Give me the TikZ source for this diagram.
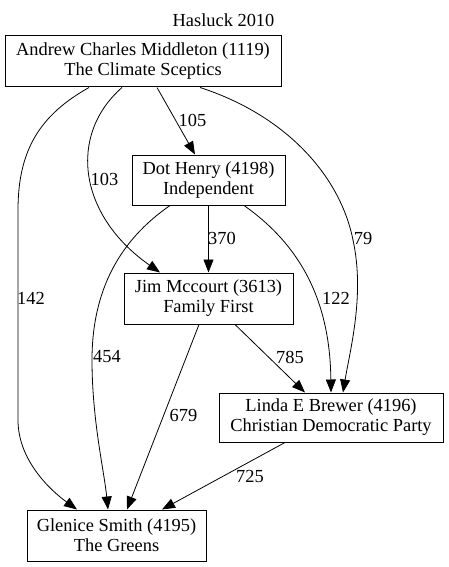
\documentclass[tikz,border=0pt]{standalone}
\usepackage{fontspec}
\setmainfont{Liberation Serif}
\usepackage{tikz}
\usetikzlibrary{arrows.meta, calc}

\tikzset{
  cand/.style={draw, line width=1pt, inner sep=0pt, align=center, font=\fontsize{18.4}{20}\selectfont},
  edge/.style={line width=0.8pt, -{Triangle[length=13pt, width=10pt]}},
  vote/.style={inner sep=0pt, font=\fontsize{18.4}{20}\selectfont}
}

\begin{document}
\begin{tikzpicture}[x=1pt, y=-1pt]
  \useasboundingbox (0,0) rectangle (448,567);

  % Title
  \node[vote] (title) at (223.5,20) {Hasluck 2010};

  % Candidates
  \node[cand, minimum width=276pt, minimum height=51pt] (A) at (143,61.5) {Andrew Charles Middleton (1119)\\The Climate Sceptics};
  \node[cand, minimum width=153pt, minimum height=50pt] (D) at (208.5,180) {Dot Henry (4198)\\Independent};
  \node[cand, minimum width=169pt, minimum height=51pt] (J) at (208.5,298.5) {Jim Mccourt (3613)\\Family First};
  \node[cand, minimum width=224pt, minimum height=49pt] (L) at (331,417.5) {Linda E Brewer (4196)\\Christian Democratic Party};
  \node[cand, minimum width=179pt, minimum height=51pt] (G) at (116.5,535.5) {Glenice Smith (4195)\\The Greens};

  % Preference flows
  \draw[edge] ($(A.south)+(14,0)$) -- ($(D.north)+(-13.5,0)$);
  \draw[edge] ($(A.south)+(-21,0)$) .. controls (68,135) and (78,215) .. ($(J.north)+(-48.5,0)$);
  \draw[edge] ($(A.south)+(57,0)$) .. controls (285,115) and (340,175) .. (353,240)
    .. controls (365,295) and (350,350) .. ($(L.north)+(12,0)$);
  \draw[edge] ($(A.south)+(-54,0)$) .. controls (40,115) and (18,150) .. (18,210) -- (18,420)
    .. controls (18,460) and (50,490) .. ($(G.north)+(-39.5,0)$);
  \draw[edge] (D.south) -- (D.south |- J.north);
  \draw[edge] ($(D.south)+(-38.5,0)$) .. controls (120,240) and (92,290) .. (92,360)
    .. controls (92,420) and (104,470) .. ($(G.north)+(-8.5,0)$);
  \draw[edge] ($(D.south)+(35.5,0)$) .. controls (300,245) and (330,300) .. (L.north);
  \draw[edge] ($(J.south)+(26.5,0)$) -- ($(L.north)+(-26,0)$);
  \draw[edge] ($(J.south)+(-9.5,0)$) -- ($(G.north)+(10.5,0)$);
  \draw[edge] ($(L.south)+(-46,0)$) -- ($(G.north)+(45.5,0)$);

  % Vote labels
  \node[vote] (v105) at (192.5,120) {105};
  \node[vote] (v103) at (104.5,179) {103};
  \node[vote] (v79) at (363,238) {79};
  \node[vote] (v142) at (31,298) {142};
  \node[vote] (v370) at (222,238) {370};
  \node[vote] (v454) at (107,357) {454};
  \node[vote] (v122) at (336,298) {122};
  \node[vote] (v785) at (290,357) {785};
  \node[vote] (v679) at (183.5,415) {679};
  \node[vote] (v725) at (250,476) {725};
\end{tikzpicture}
\end{document}
